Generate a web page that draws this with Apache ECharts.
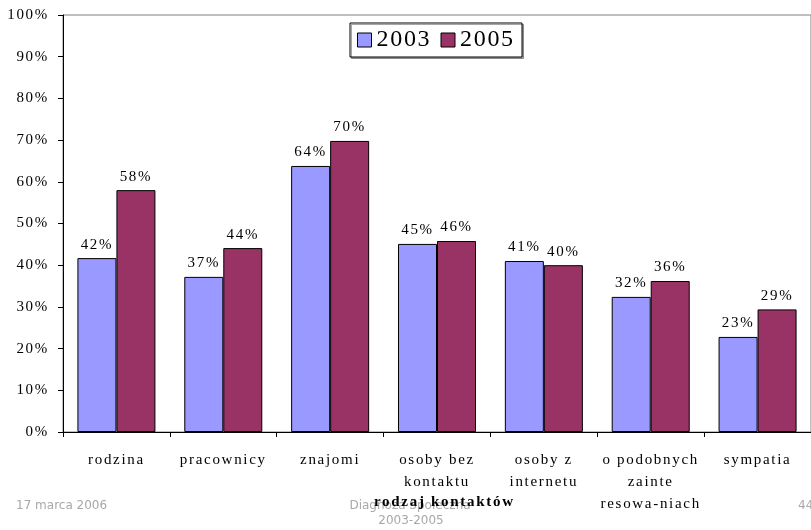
<!DOCTYPE html>
<html><head><meta charset="utf-8">
<script src="https://cdn.jsdelivr.net/npm/echarts@6/dist/echarts.min.js"></script>
<style>html,body{margin:0;padding:0;background:#fff}#c{width:811px;height:530px}</style>
</head><body><div id="c"></div>
<script>
var categories = ['rodzina','pracownicy','znajomi','osoby bez\nkontaktu','osoby z\ninternetu','o podobnych\nzainte\nresowa-niach','sympatia'];
var seriesNames = ['2003','2005'];
var values2003 = [41.7, 37.2, 63.8, 45.1, 41.0, 32.4, 22.8];
var values2005 = [58.0, 44.1, 69.8, 45.8, 40.0, 36.2, 29.4];
var yTicks = [0,10,20,30,40,50,60,70,80,90,100];

// wider letter spacing for the serif texts, as in the original slide rendering
(function(){
  var P = CanvasRenderingContext2D.prototype, orig = P.fillText;
  P.fillText = function(t, x, y, m){
    if ('letterSpacing' in this) this.letterSpacing = /Serif/.test(this.font || '') ? '1.7px' : '0px';
    return m === undefined ? orig.call(this, t, x, y) : orig.call(this, t, x, y, m);
  };
})();

var serif = "'Liberation Serif', 'Times New Roman', serif";
var sans = "'DejaVu Sans', sans-serif";
var chart = echarts.init(document.getElementById('c'));
var lbl = {show:true, position:'top', distance:6, color:'#000', fontFamily:serif, fontSize:15,
  formatter:function(p){return Math.round(p.value)+'%';}};
chart.setOption({
  animation:false,
  grid:{left:63, right:-1, top:15, bottom:98, show:true, borderColor:'#808080', borderWidth:1},
  legend:{top:23, left:350, itemWidth:14, itemHeight:14, itemGap:8, padding:[5,6,5,7],
    backgroundColor:'#fff', borderColor:'#000', borderWidth:1,
    shadowColor:'rgba(0,0,0,0.35)', shadowOffsetX:1.5, shadowOffsetY:1.5, shadowBlur:0,
    textStyle:{fontFamily:serif, fontSize:24, color:'#000', width:56, lineHeight:24},
    data:seriesNames.map(function(n){return {name:n, icon:'rect', itemStyle:{borderColor:'#000',borderWidth:1}};})},
  xAxis:{type:'category', data:categories,
    axisLine:{lineStyle:{color:'#000'}}, axisTick:{show:true, length:5, lineStyle:{color:'#000'}},
    axisLabel:{interval:0, margin:17, color:'#000', fontFamily:serif, fontSize:15, lineHeight:22}},
  yAxis:{type:'value', min:0, max:100, interval:10,
    axisLine:{show:true, lineStyle:{color:'#000'}}, axisTick:{show:true, length:5, lineStyle:{color:'#000'}},
    splitLine:{show:false},
    axisLabel:{margin:14, color:'#000', fontFamily:serif, fontSize:15, formatter:function(v){return yTicks.indexOf(v)>=0? v+'%':'';}}},
  series:[
    {name:seriesNames[0], type:'bar', data:values2003, barGap:'0%', barCategoryGap:'27%',
      itemStyle:{color:'#9999FF', borderColor:'#000', borderWidth:1}, label:lbl},
    {name:seriesNames[1], type:'bar', data:values2005,
      itemStyle:{color:'#993366', borderColor:'#000', borderWidth:1}, label:lbl}
  ],
  graphic:[
    {type:'text', x:16, y:506, style:{text:'17 marca 2006', fill:'#a8a8a8', verticalAlign:'middle', font:'12px ' + sans}},
    {type:'text', x:410, y:506, style:{text:'Diagnoza Społeczna', fill:'#a8a8a8', align:'center', verticalAlign:'middle', font:'12px ' + sans}, z:5},
    {type:'text', x:411, y:521, style:{text:'2003-2005', fill:'#a8a8a8', align:'center', verticalAlign:'middle', font:'12px ' + sans}, z:5},
    {type:'text', x:798, y:506, style:{text:'44', fill:'#a8a8a8', verticalAlign:'middle', font:'12px ' + sans}},
    {type:'text', x:374, y:502, style:{text:'rodzaj kontaktów', fill:'#000', verticalAlign:'middle', font:'bold 15px ' + serif}, z:10}
  ]
});
</script></body></html>
